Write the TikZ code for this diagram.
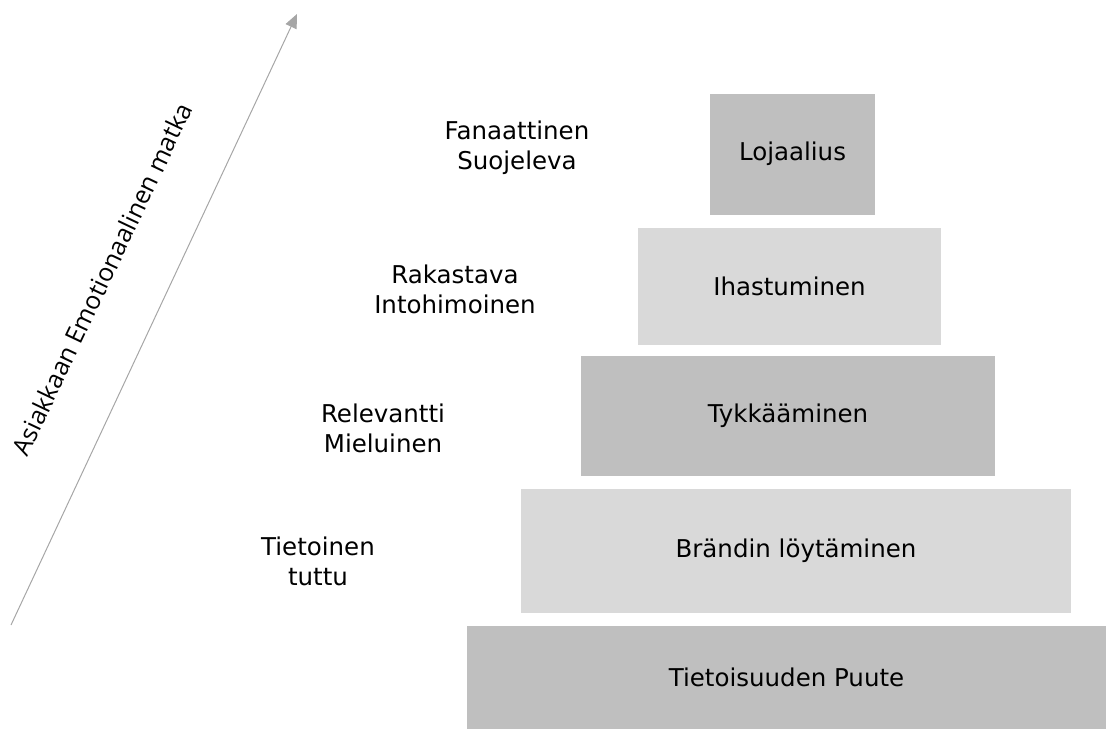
\documentclass[tikz,border=0pt]{standalone}
\usepackage{fontspec}
\setmainfont{DejaVu Sans}
\newfontfamily\arrowfont{Open Sans}
\usetikzlibrary{arrows.meta}
\definecolor{darkbar}{HTML}{BFBFBF}
\definecolor{lightbar}{HTML}{D9D9D9}
\definecolor{arrowgray}{HTML}{A6A6A6}
\tikzset{
  bar/.style={inner sep=0pt, outer sep=0pt, font=\fontsize{24.5}{29}\selectfont},
  darkbox/.style={bar, fill=darkbar},
  lightbox/.style={bar, fill=lightbar},
  sidelabel/.style={align=center, font=\fontsize{24.5}{30}\selectfont, inner sep=0pt},
}
\begin{document}
\begin{tikzpicture}[x=1pt,y=-1pt]
\useasboundingbox (0,0) rectangle (1106,729);
% pyramid bars
\node[darkbox, minimum width=165pt, minimum height=121pt] (loj) at (792.5,154) {Lojaalius};
\node[lightbox, minimum width=303pt, minimum height=117pt] (iha) at (789.5,286.5) {Ihastuminen};
\node[darkbox, minimum width=414pt, minimum height=120pt] (tyk) at (788,416) {Tykkääminen};
\node[lightbox, minimum width=550pt, minimum height=124pt] (bra) at (796,551) {Brändin löytäminen};
\node[darkbox, minimum width=639pt, minimum height=103pt] (tie) at (786.5,677.5) {Tietoisuuden Puute};
% side labels
\node[sidelabel] (l1) at (517,148) {Fanaattinen\\Suojeleva};
\node[sidelabel] (l2) at (455,289) {Rakastava\\Intohimoinen};
\node[sidelabel] (l3) at (383,428) {Relevantti\\Mieluinen};
\node[sidelabel] (l4) at (318,561) {Tietoinen\\tuttu};
% arrow
\coordinate (a0) at (11,625);
\coordinate (a1) at (297,14);
\draw[arrowgray, line width=1pt, -{Triangle[length=14pt,width=12pt]}] (a0) -- (a1);
\node[font=\arrowfont\fontsize{25}{29}\selectfont, rotate=64.6, inner sep=0pt] (lab) at (102,279) {Asiakkaan Emotionaalinen matka};
\end{tikzpicture}
\end{document}
